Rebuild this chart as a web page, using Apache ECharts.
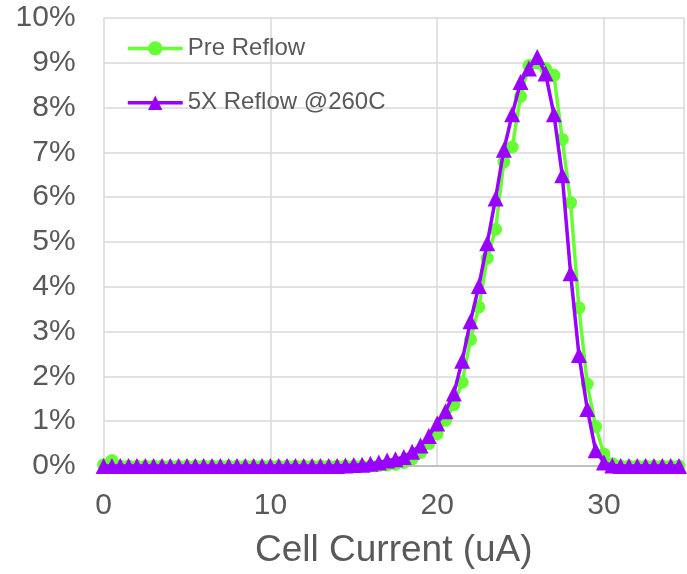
<!DOCTYPE html>
<html>
<head>
<meta charset="utf-8">
<script src="https://cdn.jsdelivr.net/npm/echarts@6/dist/echarts.min.js"></script>
<style>
html,body{margin:0;padding:0;background:#fff;}
#chart{width:687px;height:574px;}
</style>
</head>
<body>
<div id="chart"></div>
<script>
// Cell current (uA)
var xValues = [0,0.5,1,1.5,2,2.5,3,3.5,4,4.5,5,5.5,6,6.5,7,7.5,8,8.5,9,9.5,
  10,10.5,11,11.5,12,12.5,13,13.5,14,14.5,15,15.5,16,16.5,17,17.5,18,18.5,19,19.5,
  20,20.5,21,21.5,22,22.5,23,23.5,24,24.5,25,25.5,26,26.5,27,27.5,28,28.5,29,29.5,
  30,30.5,31,31.5,32,32.5,33,33.5,34,34.5];

// Pre Reflow (%)
var preReflow = [0.03,0.12,0,0,0,0,0,0,0,0,
  0,0,0,0,0,0,0,0,0,0,
  0,0,0,0,0,0,0,0,0,0,
  0,0,0,0.01,0.02,0.04,0.08,0.16,0.30,0.50,
  0.72,1.02,1.37,1.87,2.82,3.55,4.64,5.28,6.79,7.12,
  8.25,8.94,9.00,8.87,8.72,7.29,5.88,3.53,1.83,0.88,
  0.27,0.05,0,0,0,0,0,0,0,0];

// 5X Reflow @260C (%)
var reflow5x = [0,0,0,0,0,0,0,0,0,0,
  0,0,0,0,0,0,0,0,0,0,
  0,0,0,0,0,0,0,0,0,0.01,
  0.02,0.03,0.05,0.08,0.12,0.15,0.20,0.32,0.46,0.67,
  0.95,1.22,1.62,2.35,3.23,4.02,4.97,5.97,7.06,7.85,
  8.57,8.87,9.13,8.76,7.85,6.49,4.30,2.48,1.27,0.35,
  0.08,0.01,0,0,0,0,0,0,0,0];

var seriesNames = ['Pre Reflow', '5X Reflow @260C'];
var xTicks = [0, 10, 20, 30];

var FONT = 'Liberation Sans, Arial, sans-serif';
var TXT = '#595959';

function pairs(arr){ return xValues.map(function(x,i){ return [x, arr[i]]; }); }

var chart = echarts.init(document.getElementById('chart'), null, {renderer:'canvas'});
chart.setOption({
  animation: false,
  backgroundColor: '#ffffff',
  grid: { left: 103.6, right: 0, top: 18, bottom: 104, containLabel: false },
  legend: {
    orient: 'vertical',
    left: 121,
    top: 31.4,
    padding: 5,
    itemWidth: 55,
    itemHeight: 18,
    itemGap: 30.3,
    lineStyle: { width: 3.5 },
    textStyle: { fontFamily: FONT, fontSize: 24, color: TXT, lineHeight: 18 },
    data: seriesNames
  },
  xAxis: {
    type: 'value',
    min: 0, max: 34.8, interval: 10,
    name: 'Cell Current (uA)',
    nameLocation: 'middle',
    nameGap: 66,
    nameTextStyle: { fontFamily: FONT, fontSize: 37, color: TXT },
    axisLine: { show: true, lineStyle: { color: '#bfbfbf', width: 2 } },
    axisTick: { show: false },
    axisLabel: {
      fontFamily: FONT, fontSize: 30, color: TXT, margin: 25,
      formatter: function(v){ return xTicks.indexOf(v) >= 0 ? String(v) : ''; }
    },
    splitLine: { show: true, lineStyle: { color: '#d9d9d9', width: 1.5 } }
  },
  yAxis: {
    type: 'value',
    min: 0, max: 10, interval: 1,
    axisLine: { show: false },
    axisTick: { show: false },
    axisLabel: {
      fontFamily: FONT, fontSize: 30, color: TXT, margin: 28,
      formatter: function(v){ return v + '%'; }
    },
    splitLine: { show: true, lineStyle: { color: '#d9d9d9', width: 1.5 } }
  },
  series: [
    {
      name: seriesNames[0],
      type: 'line',
      data: pairs(preReflow),
      symbol: 'circle',
      symbolSize: 13,
      showAllSymbol: true,
      clip: false,
      itemStyle: { color: '#66ff33' },
      lineStyle: { color: '#66ff33', width: 3.5 },
      z: 2
    },
    {
      name: seriesNames[1],
      type: 'line',
      data: pairs(reflow5x),
      symbol: 'triangle',
      symbolSize: 16,
      showAllSymbol: true,
      clip: false,
      itemStyle: { color: '#9900ff' },
      lineStyle: { color: '#9900ff', width: 3.5 },
      z: 3
    }
  ]
});
</script>
</body>
</html>
